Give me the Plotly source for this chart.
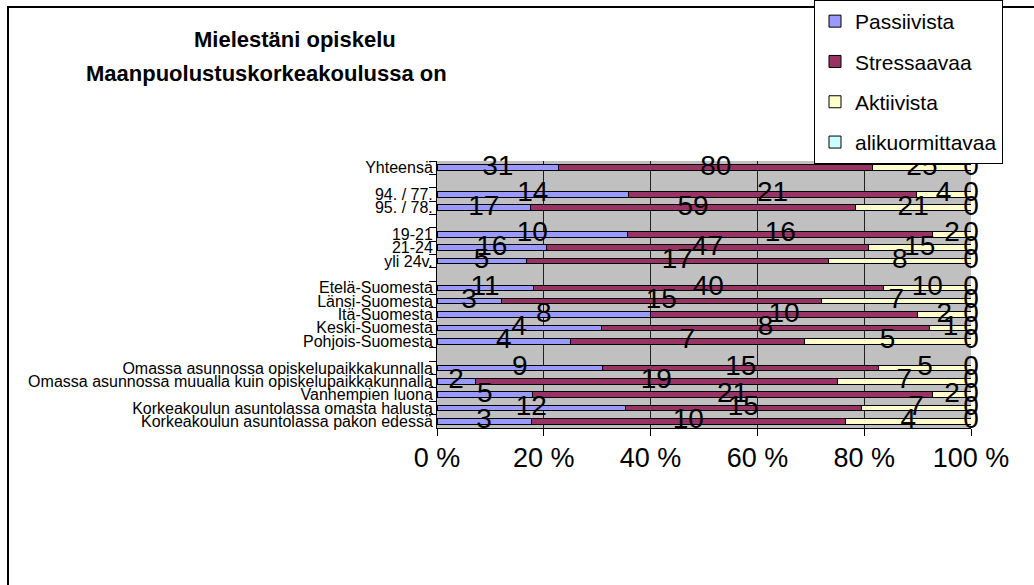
import plotly.graph_objects as go

# ---------------- data ----------------
categories = [
    "Yhteensä", " ",
    "94. / 77.", "95. / 78.", "  ",
    "19-21", "21-24", "yli 24v.", "   ",
    "Etelä-Suomesta", "Länsi-Suomesta", "Itä-Suomesta", "Keski-Suomesta", "Pohjois-Suomesta", "    ",
    "Omassa asunnossa opiskelupaikkakunnalla",
    "Omassa asunnossa muualla kuin opiskelupaikkakunnalla",
    "Vanhempien luona",
    "Korkeakoulun asuntolassa omasta halusta",
    "Korkeakoulun asuntolassa pakon edessä",
]
passiivista = [31, None, 14, 17, None, 10, 16, 5, None, 11, 3, 8, 4, 4, None, 9, 2, 5, 12, 3]
stressaavaa = [80, None, 21, 59, None, 16, 47, 17, None, 40, 15, 10, 8, 7, None, 15, 19, 21, 15, 10]
aktiivista = [25, None, 4, 21, None, 2, 15, 8, None, 10, 7, 2, 1, 5, None, 5, 7, 2, 7, 4]
alikuormittavaa = [0, None, 0, 0, None, 0, 0, 0, None, 0, 0, 0, 0, 0, None, 0, 0, 0, 0, 0]

series_names = ["Passiivista", "Stressaavaa", "Aktiivista", "alikuormittavaa"]
series_values = [passiivista, stressaavaa, aktiivista, alikuormittavaa]
series_colors = ["#9999FF", "#993366", "#FFFFCC", "#CCFFFF"]

x_ticks = [0, 20, 40, 60, 80, 100]
x_ticktext = ["0 %", "20 %", "40 %", "60 %", "80 %", "100 %"]

title_lines = ["Mielestäni opiskelu", "Maanpuolustuskorkeakoulussa on"]

FONT = "Liberation Sans, Arial, sans-serif"

# ---------------- layout geometry (pixels) ----------------
W, H = 1034, 585
ML, MR, MT, MB = 437, 63, 161, 157
PW = W - ML - MR
PH = H - MT - MB


def px_to_paper_x(px):
    return (px - ML) / PW


def px_to_paper_y(py):
    return (H - MB - py) / PH


fig = go.Figure()

for name, vals, col in zip(series_names, series_values, series_colors):
    fig.add_trace(go.Bar(
        y=categories, x=vals, orientation="h", name=name,
        marker=dict(color=col, line=dict(color="black", width=1)),
        width=0.42, legendgroup=name, hoverinfo="skip",
    ))

# label positions: midpoints of each normalised segment
for vals in series_values:
    xs, ys, ts = [], [], []
    for i, cat in enumerate(categories):
        if vals[i] is None:
            continue
        total = sum(s[i] for s in series_values)
        cum = 0.0
        for s in series_values:
            if s is vals:
                break
            cum += s[i] / total * 100
        mid = cum + vals[i] / total * 100 / 2
        xs.append(mid)
        ys.append(cat)
        ts.append(str(vals[i]))
    fig.add_trace(go.Scatter(
        x=xs, y=ys, text=ts, mode="text", textposition="middle center",
        textfont=dict(family=FONT, size=28, color="black"),
        showlegend=False, cliponaxis=False, hoverinfo="skip",
    ))

fig.update_layout(
    width=W, height=H,
    margin=dict(l=ML, r=MR, t=MT, b=MB, pad=0, autoexpand=False),
    paper_bgcolor="white", plot_bgcolor="#C0C0C0",
    barmode="stack", barnorm="percent",
    font=dict(family=FONT, color="black"),
    showlegend=True,
    legend=dict(
        x=px_to_paper_x(814), y=px_to_paper_y(0), xanchor="left", yanchor="top",
        bgcolor="white", bordercolor="black", borderwidth=1,
        font=dict(family=FONT, size=21, color="black"),
        traceorder="grouped", tracegroupgap=10, itemwidth=30,
    ),
    xaxis=dict(
        range=[0, 100], tickvals=x_ticks, ticktext=x_ticktext,
        showgrid=True, gridcolor="#202020", gridwidth=1,
        ticks="outside", ticklen=7, tickcolor="black",
        showline=True, linecolor="black", linewidth=1,
        zeroline=False, tickfont=dict(family=FONT, size=27),
        ticklabelstandoff=-1, fixedrange=True,
    ),
    yaxis=dict(
        categoryorder="array", categoryarray=categories,
        range=[len(categories) - 0.5, -0.5], autorange=False,
        tickson="boundaries",
        tickmode="linear", tick0=0, dtick=1,
        ticks="outside", ticklen=7, tickcolor="black",
        showline=True, linecolor="black", linewidth=1,
        showgrid=False, tickfont=dict(family=FONT, size=16),
        fixedrange=True,
    ),
    shapes=[
        dict(type="rect", xref="paper", yref="paper",
             x0=px_to_paper_x(8), x1=px_to_paper_x(1045),
             y0=px_to_paper_y(600), y1=px_to_paper_y(7),
             line=dict(color="black", width=2), fillcolor="rgba(0,0,0,0)"),
    ],
    annotations=[
        dict(text="<b>%s</b>" % title_lines[0], xref="paper", yref="paper",
             x=px_to_paper_x(295), y=px_to_paper_y(39), xanchor="center", yanchor="middle",
             showarrow=False, font=dict(family=FONT, size=22, color="black")),
        dict(text="<b>%s</b>" % title_lines[1], xref="paper", yref="paper",
             x=px_to_paper_x(266), y=px_to_paper_y(73), xanchor="center", yanchor="middle",
             showarrow=False, font=dict(family=FONT, size=22, color="black")),
    ],
)

fig.write_html(
    "out.html",
    config={"displayModeBar": False, "staticPlot": True},
    post_script="document.body.style.margin='0';document.body.style.padding='0';"
                "document.body.style.overflow='hidden';"
                "document.documentElement.style.overflow='hidden';",
)
